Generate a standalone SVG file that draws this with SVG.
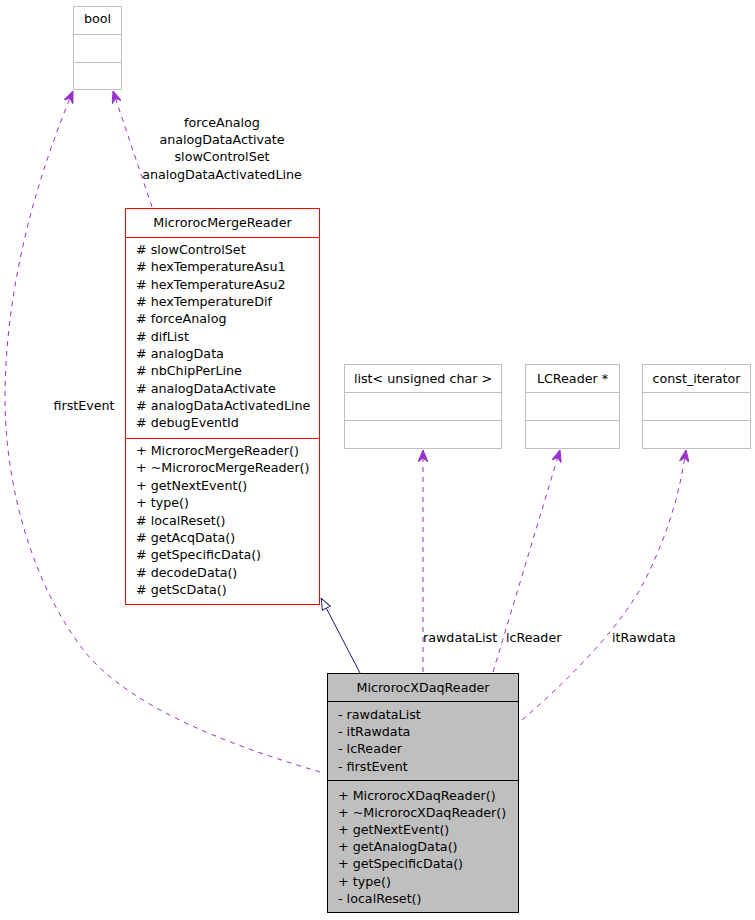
<svg xmlns="http://www.w3.org/2000/svg" width="755" height="920" viewBox="0 0 755 920">
<style>
text{font-family:"DejaVu Sans",sans-serif;font-size:12.7px;fill:#000}
.c{text-anchor:middle}
.ext{fill:#fff;stroke:#bfbfbf;stroke-width:1}
.red{fill:#fff;stroke:#ff0000;stroke-width:1}
.cur{fill:#bfbfbf;stroke:#000;stroke-width:1}
.use{fill:none;stroke:#9a32cd;stroke-width:1;stroke-dasharray:5,5}
.inh{fill:none;stroke:#191970;stroke-width:1}
</style>
<defs>
<marker id="vee" markerUnits="userSpaceOnUse" viewBox="0 0 12 10" refX="12" refY="5" markerWidth="12" markerHeight="10" orient="auto">
<path d="M0,0 L12,5 L0,10 L4,5 z" fill="#9a32cd" stroke="#9a32cd"/>
</marker>
<marker id="tri" markerUnits="userSpaceOnUse" viewBox="0 0 12 10" refX="12" refY="5" markerWidth="12" markerHeight="10" orient="auto">
<path d="M0.5,0.5 L11.5,5 L0.5,9.5 z" fill="#fff" stroke="#191970"/>
</marker>
</defs>
<g id="edges">
<path class="use" d="M320,772 C240,748 135,712 85,652 C25,575 5,470 5,400 C5,280 40,170 73,91" marker-end="url(#vee)"/>
<text class="c" x="84" y="410">firstEvent</text>
<path class="use" d="M152,207 L113,91" marker-end="url(#vee)"/>
<text class="c" x="222" y="127">forceAnalog</text>
<text class="c" x="222" y="144">analogDataActivate</text>
<text class="c" x="222" y="161">slowControlSet</text>
<text class="c" x="222" y="179">analogDataActivatedLine</text>
<path class="inh" d="M360,673 L321,598" marker-end="url(#tri)"/>
<path class="use" d="M423,672 L423,450" marker-end="url(#vee)"/>
<text x="423" y="642">rawdataList</text>
<path class="use" d="M493,672 L560,450" marker-end="url(#vee)"/>
<text x="506" y="642">lcReader</text>
<path class="use" d="M522,720 C580,670 625,620 645,580 C670,530 680,490 686,450" marker-end="url(#vee)"/>
<text x="612" y="642">itRawdata</text>
</g>
<g id="bool">
<rect class="ext" x="73.5" y="6.5" width="48" height="83"/>
<line class="ext" x1="73.5" y1="34.5" x2="121.5" y2="34.5"/>
<line class="ext" x1="73.5" y1="62.5" x2="121.5" y2="62.5"/>
<text class="c" x="97.5" y="23">bool</text>
</g>
<g id="MicrorocMergeReader">
<rect class="red" x="125.5" y="208.5" width="194" height="396"/>
<line class="red" x1="125.5" y1="237.5" x2="319.5" y2="237.5"/>
<line class="red" x1="125.5" y1="438.5" x2="319.5" y2="438.5"/>
<text class="c" x="222.5" y="227">MicrorocMergeReader</text>
<text x="136" y="254"># slowControlSet</text>
<text x="136" y="271"># hexTemperatureAsu1</text>
<text x="136" y="289"># hexTemperatureAsu2</text>
<text x="136" y="306"># hexTemperatureDif</text>
<text x="136" y="323"># forceAnalog</text>
<text x="136" y="341"># difList</text>
<text x="136" y="358"># analogData</text>
<text x="136" y="375"># nbChipPerLine</text>
<text x="136" y="393"># analogDataActivate</text>
<text x="136" y="410"># analogDataActivatedLine</text>
<text x="136" y="427"># debugEventId</text>
<text x="136" y="455">+ MicrorocMergeReader()</text>
<text x="136" y="472">+ ~MicrorocMergeReader()</text>
<text x="136" y="490">+ getNextEvent()</text>
<text x="136" y="507">+ type()</text>
<text x="136" y="525"># localReset()</text>
<text x="136" y="542"># getAcqData()</text>
<text x="136" y="559"># getSpecificData()</text>
<text x="136" y="577"># decodeData()</text>
<text x="136" y="594"># getScData()</text>
</g>
<g id="list_unsigned_char">
<rect class="ext" x="344.5" y="364.5" width="157" height="84"/>
<line class="ext" x1="344.5" y1="392.5" x2="501.5" y2="392.5"/>
<line class="ext" x1="344.5" y1="420.5" x2="501.5" y2="420.5"/>
<text class="c" x="423" y="383">list&lt; unsigned char &gt;</text>
</g>
<g id="LCReader">
<rect class="ext" x="525.5" y="364.5" width="94" height="84"/>
<line class="ext" x1="525.5" y1="392.5" x2="619.5" y2="392.5"/>
<line class="ext" x1="525.5" y1="420.5" x2="619.5" y2="420.5"/>
<text class="c" x="572.5" y="383">LCReader *</text>
</g>
<g id="const_iterator">
<rect class="ext" x="642.5" y="364.5" width="108" height="84"/>
<line class="ext" x1="642.5" y1="392.5" x2="750.5" y2="392.5"/>
<line class="ext" x1="642.5" y1="420.5" x2="750.5" y2="420.5"/>
<text class="c" x="696.5" y="383">const_iterator</text>
</g>
<g id="MicrorocXDaqReader">
<rect class="cur" x="327.5" y="673.5" width="191" height="239"/>
<line class="cur" x1="327.5" y1="701.5" x2="518.5" y2="701.5"/>
<line class="cur" x1="327.5" y1="780.5" x2="518.5" y2="780.5"/>
<text class="c" x="423" y="692">MicrorocXDaqReader</text>
<text x="338" y="719">- rawdataList</text>
<text x="338" y="736">- itRawdata</text>
<text x="338" y="753">- lcReader</text>
<text x="338" y="771">- firstEvent</text>
<text x="338" y="800">+ MicrorocXDaqReader()</text>
<text x="338" y="817">+ ~MicrorocXDaqReader()</text>
<text x="338" y="834">+ getNextEvent()</text>
<text x="338" y="851">+ getAnalogData()</text>
<text x="338" y="868">+ getSpecificData()</text>
<text x="338" y="886">+ type()</text>
<text x="338" y="903">- localReset()</text>
</g>
</svg>
